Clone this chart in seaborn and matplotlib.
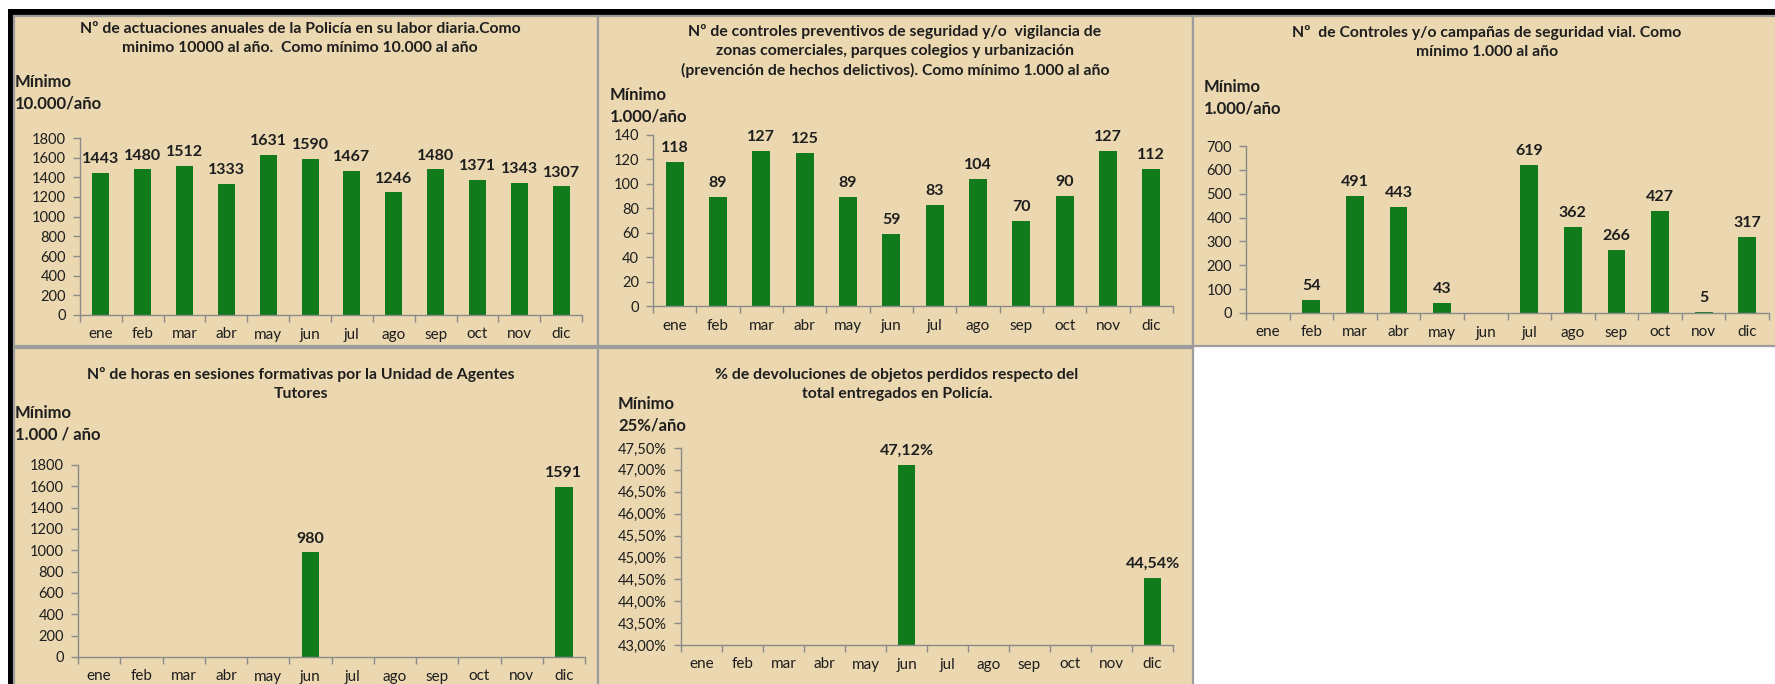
import numpy as np
import pandas as pd
import matplotlib
matplotlib.use('Agg')
import matplotlib.pyplot as plt
from matplotlib.patches import Rectangle
from matplotlib.ticker import FixedLocator, FuncFormatter
import seaborn as sns

meses = ['ene', 'feb', 'mar', 'abr', 'may', 'jun', 'jul', 'ago', 'sep', 'oct', 'nov', 'dic']

actuaciones = [1443, 1480, 1512, 1333, 1631, 1590, 1467, 1246, 1480, 1371, 1343, 1307]
controles_prev = [118, 89, 127, 125, 89, 59, 83, 104, 70, 90, 127, 112]
controles_vial = [np.nan, 54, 491, 443, 43, np.nan, 619, 362, 266, 427, 5, 317]
horas_tutores = [np.nan] * 5 + [980] + [np.nan] * 5 + [1591]
devoluciones = [np.nan] * 5 + [47.12] + [np.nan] * 5 + [44.54]

titulos = [
    'Nº de actuaciones anuales de la Policía en su labor diaria.Como\nminimo 10000 al año.  Como mínimo 10.000 al año',
    'Nº de controles preventivos de seguridad y/o  vigilancia de\nzonas comerciales, parques colegios y urbanización\n(prevención de hechos delictivos). Como mínimo 1.000 al año',
    'Nº  de Controles y/o campañas de seguridad vial. Como\nmínimo 1.000 al año',
    'Nº de horas en sesiones formativas por la Unidad de Agentes\nTutores',
    '% de devoluciones de objetos perdidos respecto del\ntotal entregados en Policía.',
]
minimos = ['Mínimo\n10.000/año', 'Mínimo\n1.000/año', 'Mínimo\n1.000/año', 'Mínimo\n1.000 / año', 'Mínimo\n25%/año']

TAN = '#ebd8b0'
GREEN = '#117a1b'
AXIS = '#8a8a8a'
TXT = '#1e1e1e'

W, H = 1775, 684
sns.set_theme(style='white')
plt.rcParams['font.family'] = ['Lato', 'DejaVu Sans']

fig = plt.figure(figsize=(W / 100, H / 100), dpi=100)
fig.patch.set_facecolor('white')


def fx(x):
    return x / W


def fy(y):
    return 1 - y / H


def rect(x0, y0, x1, y1, fc, ec='none', lw=0):
    fig.add_artist(Rectangle((fx(x0), fy(y1)), fx(x1) - fx(x0), fy(y0) - fy(y1),
                             transform=fig.transFigure, facecolor=fc, edgecolor=ec,
                             linewidth=lw, zorder=0))


# black frame (top band + left band)
rect(8, 9, W, 16, 'black')
rect(8, 9, 14, H, 'black')

# panel backgrounds
paneles = [(14, 16, 598, 346), (598, 16, 1193, 346), (1193, 16, W + 2, 346),
           (14, 348, 598, H + 2), (598, 348, 1193, H + 2)]
for p in paneles:
    rect(*p, TAN, ec='#9c9c9c', lw=1.6)

# axes boxes in pixels: x0, y_top, x1, y_bottom
cajas = [(80, 138, 582, 315), (653, 135, 1173, 306), (1246, 146, 1769, 313),
         (78, 465, 585, 657), (681, 448, 1173, 645)]
limites = [(0, 1800, 200), (0, 140, 20), (0, 700, 100), (0, 1800, 200), (43, 47.5, 0.5)]
series = [actuaciones, controles_prev, controles_vial, horas_tutores, devoluciones]
titulo_pos = [(300, 28), (895, 30), (1487, 31), (301, 373), (897, 374)]
minimo_pos = [(15, 81), (610, 94), (1204, 86), (15, 412), (618, 403)]

for i in range(5):
    x0, y0, x1, y1 = cajas[i]
    ax = fig.add_axes([fx(x0), fy(y1), fx(x1) - fx(x0), fy(y0) - fy(y1)])
    ax.set_facecolor('none')
    df = pd.DataFrame({'mes': meses, 'valor': series[i]}).dropna()
    sns.barplot(data=df, x='mes', y='valor', order=meses, color=GREEN,
                width=0.41, errorbar=None, saturation=1, linewidth=0,
                edgecolor='none', ax=ax)
    lo, hi, step = limites[i]
    ax.set_ylim(lo, hi)
    ax.set_xlim(-0.5, 11.5)
    ax.set_xlabel('')
    ax.set_ylabel('')
    ax.yaxis.set_major_locator(FixedLocator(np.arange(lo, hi + step / 2, step)))
    if i == 4:
        ax.yaxis.set_major_formatter(FuncFormatter(lambda v, p: f'{v:.2f}%'.replace('.', ',')))
    for s in ['top', 'right']:
        ax.spines[s].set_visible(False)
    for s in ['left', 'bottom']:
        ax.spines[s].set_color(AXIS)
        ax.spines[s].set_linewidth(1.0)
    ax.tick_params(axis='y', which='major', direction='out', length=5, width=1,
                   color=AXIS, labelsize=10.5, labelcolor=TXT, pad=5, left=True)
    ax.tick_params(axis='x', which='major', length=0, labelsize=11, labelcolor=TXT, pad=9)
    ax.set_xticks(np.arange(-0.5, 12, 1), minor=True)
    ax.tick_params(axis='x', which='minor', direction='out', length=5, width=1,
                   color=AXIS, bottom=True)
    for k, v in enumerate(series[i]):
        if np.isnan(v):
            continue
        lab = f'{v:.2f}%'.replace('.', ',') if i == 4 else f'{int(v)}'
        ax.annotate(lab, (k, v), xytext=(0, 5), textcoords='offset points',
                    ha='center', va='bottom', fontsize=11.5, fontweight='bold',
                    color=TXT, annotation_clip=False)

    tx, ty = titulo_pos[i]
    fig.text(fx(tx), fy(ty - 6), titulos[i], ha='center', va='top',
             fontsize=11.3, fontweight='bold', color=TXT, linespacing=1.45)
    mx, my = minimo_pos[i]
    fig.text(fx(mx), fy(my - 7), minimos[i], ha='left', va='top', fontsize=12,
             fontweight='bold', color=TXT, linespacing=1.4)

fig.savefig('out.png', dpi=100, facecolor=fig.get_facecolor())
